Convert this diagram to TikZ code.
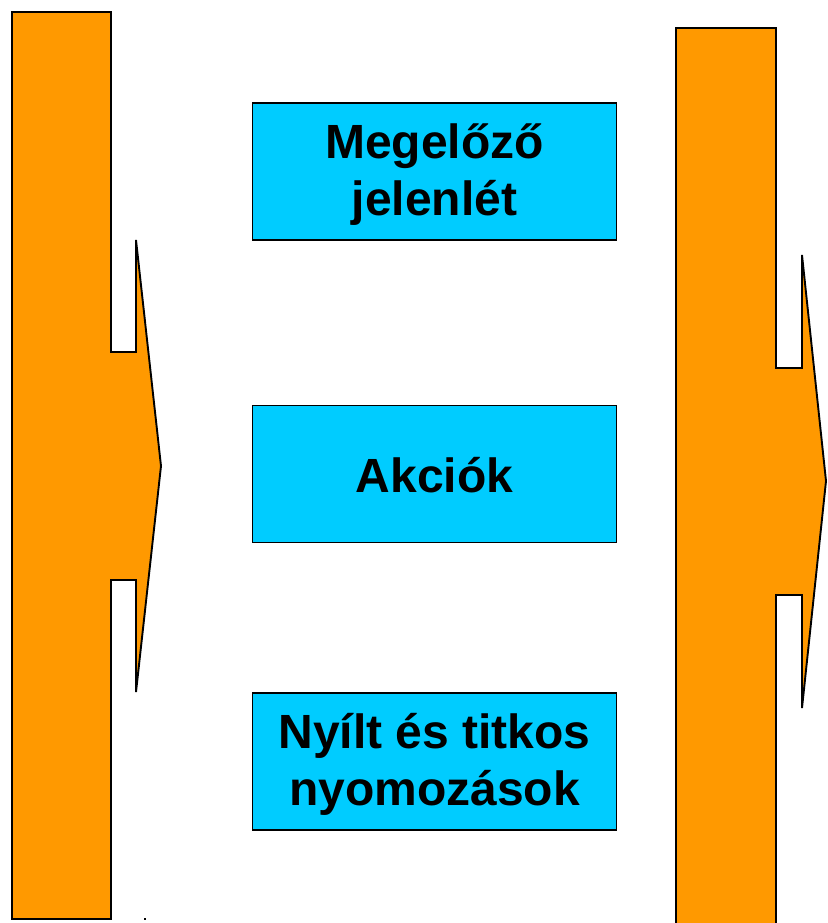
\documentclass[tikz,border=0pt]{standalone}
\usepackage{fontspec}
\setmainfont{Liberation Sans}
\definecolor{arroworange}{HTML}{FF9900}
\definecolor{boxcyan}{HTML}{00CCFF}
\begin{document}
\begin{tikzpicture}[x=1pt,y=-1pt,
  bigarrow/.style={fill=arroworange,draw=black,line width=1.9pt,line join=miter},
  infobox/.style={rectangle,fill=boxcyan,draw=black,line width=1.9pt,
    minimum width=364pt,minimum height=137pt,inner sep=0pt},
  boxtext/.style={inner sep=0pt,align=center,
    font=\fontsize{48}{57}\selectfont\bfseries}]
\useasboundingbox (0,0) rectangle (827,923);
\clip (0,0) rectangle (827,923);
% left arrow shape
\draw[bigarrow] (12,12) -- (111,12) -- (111,352) -- (136,352) -- (136,240)
  -- (161,466) -- (136,692) -- (136,580) -- (111,580) -- (111,919)
  -- (12,919) -- cycle;
% right arrow shape
\draw[bigarrow] (676,935) -- (676,28) -- (776,28) -- (776,368) -- (802,368) -- (802,255)
  -- (826,481) -- (802,708) -- (802,595) -- (776,595) -- (776,935);
% boxes
\node[infobox] (prev) at (434.5,171.5) {};
\node[boxtext] (prevtext) at ([yshift=-3pt]prev.center) {Megelőző\\jelenlét};
\node[infobox] (akc) at (434.5,474) {};
\node[boxtext] (akctext) at ([yshift=-1pt]akc.center) {Akciók};
\node[infobox] (nyom) at (434.5,761.5) {};
\node[boxtext] (nyomtext) at ([yshift=-3pt]nyom.center) {Nyílt és titkos\\nyomozások};
% stray dot
\fill[black] (144,918) rectangle (146,920);
\end{tikzpicture}
\end{document}
